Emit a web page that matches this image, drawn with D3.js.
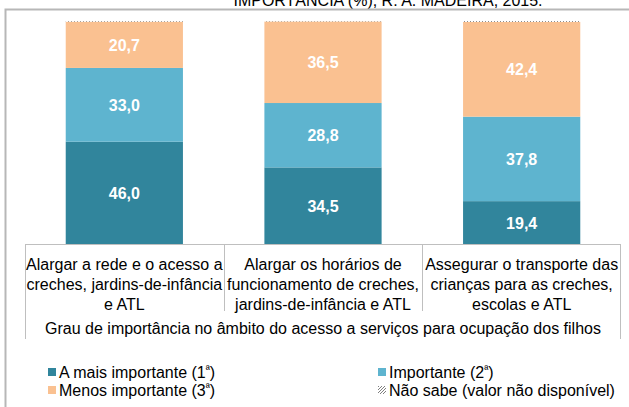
<!DOCTYPE html>
<html>
<head>
<meta charset="utf-8">
<script src="https://cdn.jsdelivr.net/npm/d3@7"></script>
<style>
  body { margin: 0; background: #fff; }
  svg { display: block; font-family: "Liberation Sans", Arial, sans-serif; }
</style>
</head>
<body>
<div id="chart"></div>
<script>
// data
const categories = ["c1", "c2", "c3"]
const categoryLines = [
  ["Alargar a rede e o acesso a", "creches, jardins-de-infância", "e ATL"],
  ["Alargar os horários de", "funcionamento de creches,", "jardins-de-infância e ATL"],
  ["Assegurar o transporte das", "crianças para as creches,", "escolas e ATL"]
]
const maisImportante = [46.0, 34.5, 19.4]
const importante = [33.0, 28.8, 37.8]
const menosImportante = [20.7, 36.5, 42.4]
const naoSabe = [0.3, 0.2, 0.4]
const seriesNames = ["A mais importante (1ª)", "Importante (2ª)", "Menos importante (3ª)", "Não sabe (valor não disponível)"]
const titleText = "IMPORTÂNCIA (%), R. A. MADEIRA, 2015."
const axisTitle = "Grau de importância no âmbito do acesso a serviços para ocupação dos filhos"

const width = 629
const height = 407
const colors = ["#31859C", "#5EB4CF", "#FAC191", "url(#hatch)"]

const svg = d3.select("#chart").append("svg")
  .attr("width", width)
  .attr("height", height)

const defs = svg.append("defs")
const pat = defs.append("pattern")
  .attr("id", "hatch")
  .attr("patternUnits", "userSpaceOnUse")
  .attr("width", 3).attr("height", 3)
pat.append("rect").attr("width", 3).attr("height", 3).attr("fill", "#fff")
pat.append("path").attr("d", "M0,3 L3,0").attr("stroke", "#7f7f7f").attr("stroke-width", 1)

// title (cut off at the top in the reference)
svg.append("text")
  .attr("x", 388).attr("y", 6)
  .attr("text-anchor", "middle")
  .attr("font-size", 16)
  .attr("fill", "#000")
  .text(titleText)

// outer frame
svg.append("path")
  .attr("d", "M5.5," + height + " V9.5 H" + width)
  .attr("fill", "none")
  .attr("stroke", "#B7B7B7")
  .attr("stroke-width", 2)

const tableLeft = 25, tableRight = 621
const y0 = 244.5, y100 = 21

const x = d3.scaleBand()
  .domain(categories)
  .range([tableLeft, tableRight])
  .paddingInner(0.41)
  .paddingOuter(0.205)

const y = d3.scaleLinear().domain([0, 100]).range([y0, y100])

const rows = categories.map((c, i) => ({
  cat: c,
  s0: maisImportante[i], s1: importante[i], s2: menosImportante[i], s3: naoSabe[i]
}))
const stack = d3.stack().keys(["s0", "s1", "s2", "s3"])(rows)

const g = svg.append("g")
stack.forEach((layer, li) => {
  g.selectAll(null)
    .data(layer)
    .join("rect")
    .attr("x", d => x(d.data.cat))
    .attr("width", x.bandwidth())
    .attr("y", d => y(d[1]))
    .attr("height", d => y(d[0]) - y(d[1]))
    .attr("fill", colors[li])

  if (li < 3) {
    g.selectAll(null)
      .data(layer)
      .join("text")
      .attr("x", d => x(d.data.cat) + x.bandwidth() / 2)
      .attr("y", d => (y(d[0]) + y(d[1])) / 2)
      .attr("dy", "0.36em")
      .attr("text-anchor", "middle")
      .attr("font-size", 16)
      .attr("font-weight", "bold")
      .attr("fill", "#fff")
      .text(d => (d[1] - d[0]).toFixed(1).replace(".", ","))
  }
})

// category table
const step = x.step()
const tableTop = 244.5
const lineColor = "#BFBFBF"
const tg = svg.append("g").attr("stroke", lineColor).attr("stroke-width", 1)
tg.append("line").attr("x1", tableLeft).attr("x2", tableRight).attr("y1", tableTop).attr("y2", tableTop)
tg.append("line").attr("x1", tableLeft + 0.5).attr("x2", tableLeft + 0.5).attr("y1", tableTop).attr("y2", 339)
tg.append("line").attr("x1", tableRight - 0.5).attr("x2", tableRight - 0.5).attr("y1", tableTop).attr("y2", 339)
for (let i = 1; i < categories.length; i++) {
  const xd = Math.round(tableLeft + step * i) + 0.5
  tg.append("line").attr("x1", xd).attr("x2", xd).attr("y1", tableTop).attr("y2", 311)
}

categories.forEach((c, i) => {
  const cx = x(c) + x.bandwidth() / 2
  const t = svg.append("text")
    .attr("text-anchor", "middle")
    .attr("font-size", 16)
    .attr("fill", "#000")
  categoryLines[i].forEach((line, k) => {
    t.append("tspan").attr("x", cx).attr("y", 270 + k * 20).text(line)
  })
})

svg.append("text")
  .attr("x", (tableLeft + tableRight) / 2)
  .attr("y", 333.5)
  .attr("text-anchor", "middle")
  .attr("font-size", 16)
  .attr("fill", "#000")
  .text(axisTitle)

// legend
const legendPos = [[48, 372], [378, 372], [48, 390], [378, 390]]
const legend = svg.append("g")
seriesNames.forEach((name, i) => {
  const [lx, ly] = legendPos[i]
  legend.append("rect")
    .attr("x", lx).attr("y", ly - 4)
    .attr("width", 8).attr("height", 8)
    .attr("fill", colors[i])
  const m = name.match(/^(.*\()(\d)(ª)(\).*)$/)
  const t = legend.append("text")
    .attr("x", lx + 11).attr("y", ly)
    .attr("dy", "0.36em")
    .attr("font-size", 16)
    .attr("fill", "#000")
  if (m) {
    t.append("tspan").text(m[1] + m[2])
    t.append("tspan").attr("font-size", 11).attr("dy", "-0.45em").text(m[3])
    t.append("tspan").attr("dy", "0.3em").text(m[4])
  } else {
    t.text(name)
  }
})
</script>
</body>
</html>
